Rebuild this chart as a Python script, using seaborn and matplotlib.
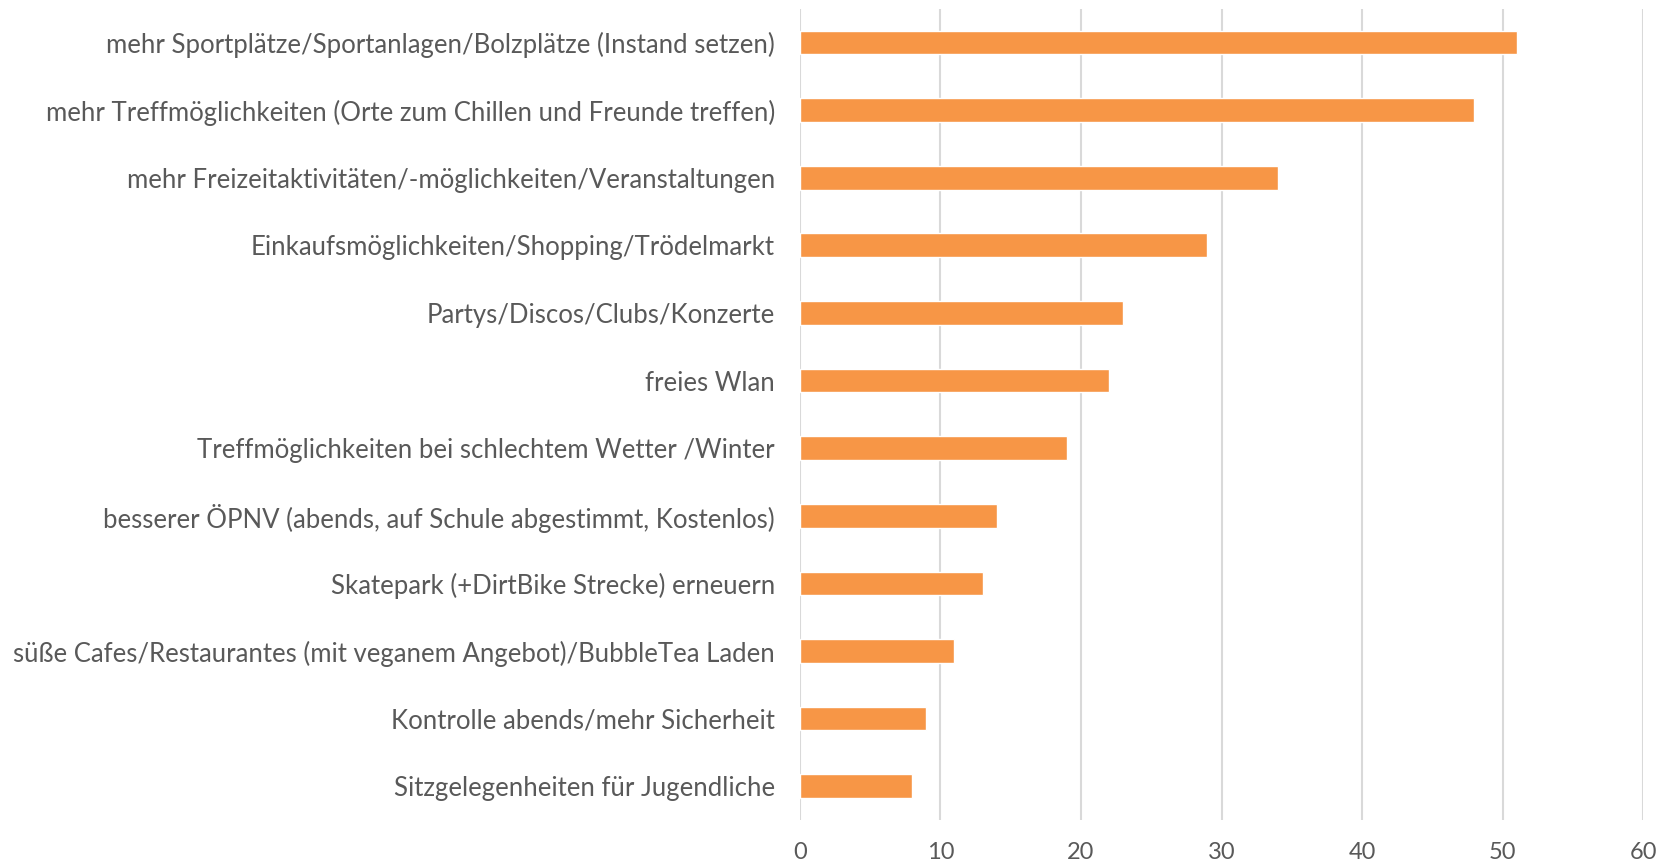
import pandas as pd
import seaborn as sns
import matplotlib.pyplot as plt

categories = [
    "mehr Sportplätze/Sportanlagen/Bolzplätze (Instand setzen)",
    "mehr Treffmöglichkeiten (Orte zum Chillen und Freunde treffen)",
    "mehr Freizeitaktivitäten/-möglichkeiten/Veranstaltungen",
    "Einkaufsmöglichkeiten/Shopping/Trödelmarkt",
    "Partys/Discos/Clubs/Konzerte",
    "freies Wlan",
    "Treffmöglichkeiten bei schlechtem Wetter /Winter",
    "besserer ÖPNV (abends, auf Schule abgestimmt, Kostenlos)",
    "Skatepark (+DirtBike Strecke) erneuern",
    "süße Cafes/Restaurantes (mit veganem Angebot)/BubbleTea Laden",
    "Kontrolle abends/mehr Sicherheit",
    "Sitzgelegenheiten für Jugendliche",
]
counts = [51, 48, 34, 29, 23, 22, 19, 14, 13, 11, 9, 8]
x_ticks = [0, 10, 20, 30, 40, 50, 60]

df = pd.DataFrame({"wunsch": categories, "anzahl": counts})

sns.set_theme(style="white")
plt.rcParams['font.family'] = ['Lato', 'DejaVu Sans']

fig = plt.figure(figsize=(16.71, 8.63), dpi=100)
ax = fig.add_axes([0.4787, 0.0498, 0.5046, 0.9402])

sns.barplot(data=df, x="anzahl", y="wunsch", color="#F79646", width=0.35,
            orient="h", ax=ax, saturation=1)

ax.set_xlim(0, 60)
ax.set_xticks(x_ticks)
ax.set_ylim(len(categories) - 0.5, -0.5)
ax.xaxis.grid(True, color="#d9d9d9", linewidth=1.5)
ax.set_axisbelow(True)
for s in ax.spines.values():
    s.set_visible(False)
ax.set_xlabel("")
ax.set_ylabel("")
ax.tick_params(axis="y", length=0, pad=18, labelsize=18.5, labelcolor="#595959")
ax.tick_params(axis="x", length=0, pad=16, labelsize=17, labelcolor="#595959")

fig.savefig("out.png", dpi=100)
